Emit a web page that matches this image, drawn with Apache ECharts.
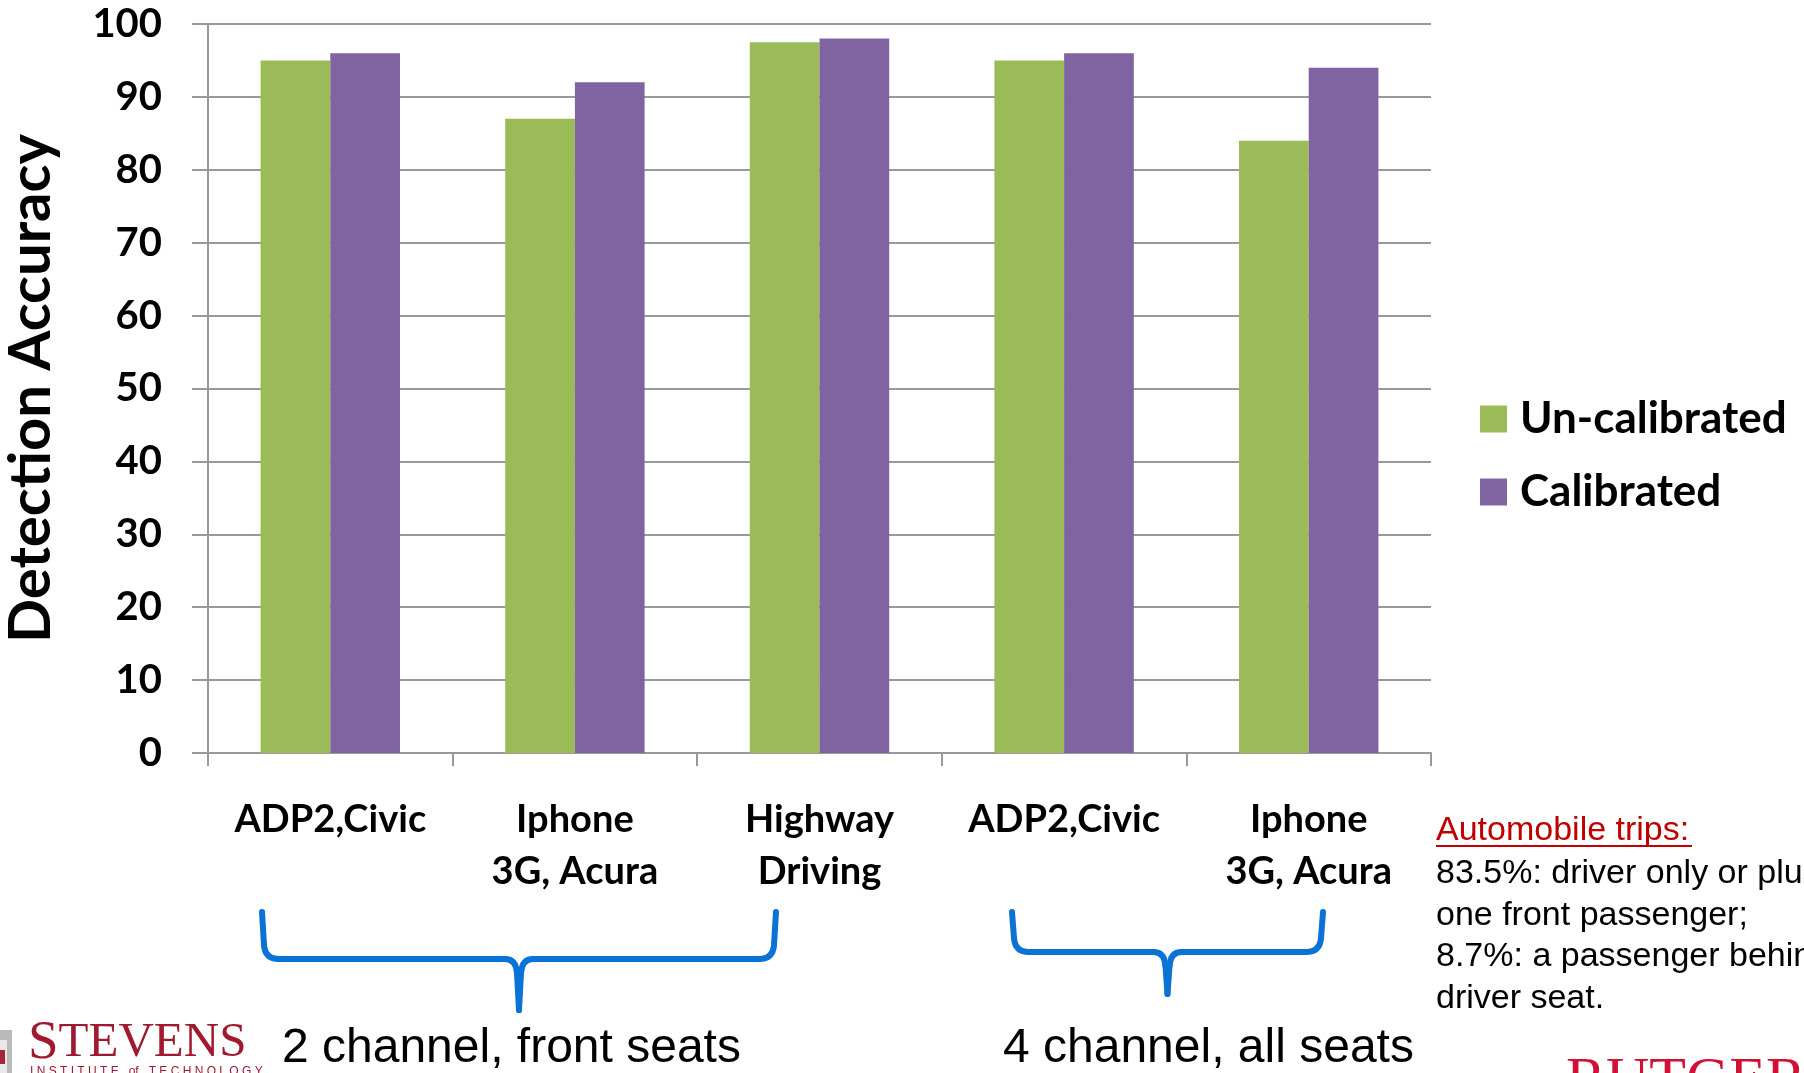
<!DOCTYPE html>
<html>
<head>
<meta charset="utf-8">
<title>Detection Accuracy</title>
<script src="https://cdn.jsdelivr.net/npm/echarts@6/dist/echarts.min.js"></script>
<style>
  html, body { margin: 0; padding: 0; background: #fff; }
  #chart { width: 1804px; height: 1073px; }
</style>
</head>
<body>
<div id="chart"></div>
<script>
// Test scenarios (two-line labels use '\n')
const categories = ['ADP2,Civic', 'Iphone\n3G, Acura', 'Highway\nDriving', 'ADP2,Civic', 'Iphone\n3G, Acura'];
// Detection accuracy (%) per scenario
const uncalibrated = [95, 87, 97.5, 95, 84];
const calibrated = [96, 92, 98, 96, 94];
const seriesNames = ['Un-calibrated', 'Calibrated'];
const yTicks = { min: 0, max: 100, step: 10 };

// Notes beside the chart
const noteTitle = 'Automobile trips:';
const noteLines = ['83.5%: driver only or plus', 'one front passenger;', '8.7%: a passenger behind', 'driver seat.'];
const groupLabels = ['2 channel, front seats', '4 channel, all seats'];

const GREEN = '#9BBB59';
const PURPLE = '#8064A2';
const GRID = '#999999';
const BLUE = '#0A73D5';
const BOLD = 'Lato, "Open Sans", sans-serif';
const ARIAL = '"Liberation Sans", Arial, sans-serif';
const SERIF = '"Liberation Serif", "DejaVu Serif", serif';

// Curly brace under a group of categories, built from straight and curved strokes
function brace(x1, x2, yTop, yH, yTip) {
  const xm = (x1 + x2) / 2;
  const r = 14;
  const st = { stroke: BLUE, lineWidth: 6, lineCap: 'round', fill: null };
  const line = (ax, ay, bx, by) => ({ type: 'line', shape: { x1: ax, y1: ay, x2: bx, y2: by }, style: st });
  const curve = (ax, ay, cx, cy, bx, by) => ({
    type: 'bezierCurve', shape: { x1: ax, y1: ay, cpx1: cx, cpy1: cy, x2: bx, y2: by }, style: st
  });
  return {
    type: 'group', silent: true,
    children: [
      line(x1, yTop, x1 + 2, yH - r),
      curve(x1 + 2, yH - r, x1 + 3, yH, x1 + r + 3, yH),
      line(x1 + r + 3, yH, xm - r, yH),
      curve(xm - r, yH, xm - 3, yH, xm - 2, yH + r),
      line(xm - 2, yH + r, xm, yTip),
      line(xm + 2, yH + r, xm, yTip),
      curve(xm + 2, yH + r, xm + 3, yH, xm + r, yH),
      line(xm + r, yH, x2 - r - 3, yH),
      curve(x2 - r - 3, yH, x2 - 3, yH, x2 - 2, yH - r),
      line(x2 - 2, yH - r, x2, yTop)
    ]
  };
}

const chart = echarts.init(document.getElementById('chart'), null, { renderer: 'canvas' });

const option = {
  animation: false,
  backgroundColor: '#ffffff',
  grid: { left: 208, right: 373, top: 24, bottom: 320, containLabel: false, outerBoundsMode: 'none' },
  legend: {
    data: seriesNames,
    orient: 'vertical',
    left: 1475,
    top: 392,
    icon: 'rect',
    itemWidth: 27,
    itemHeight: 27,
    itemGap: 29,
    selectedMode: false,
    textStyle: {
      fontFamily: BOLD, fontWeight: 'bold', fontSize: 44, color: '#000',
      padding: [0, 0, 0, 8]
    }
  },
  xAxis: {
    type: 'category',
    data: categories,
    axisLine: { show: true, lineStyle: { color: GRID, width: 2 } },
    axisTick: { show: true, length: 13, lineStyle: { color: GRID, width: 2 } },
    axisLabel: {
      interval: 0,
      margin: 41,
      fontFamily: BOLD, fontWeight: 'bold', fontSize: 38, lineHeight: 52, color: '#000'
    },
    splitLine: { show: false }
  },
  yAxis: {
    type: 'value',
    min: yTicks.min,
    max: yTicks.max,
    interval: yTicks.step,
    name: 'Detection Accuracy',
    nameLocation: 'middle',
    nameRotate: 90,
    nameGap: 148,
    nameTextStyle: { fontFamily: BOLD, fontWeight: 'bold', fontSize: 58, color: '#000' },
    axisLine: { show: true, lineStyle: { color: GRID, width: 2 } },
    axisTick: { show: true, length: 16, lineStyle: { color: GRID, width: 2 } },
    axisLabel: { margin: 46, fontFamily: BOLD, fontWeight: 'bold', fontSize: 40, color: '#000' },
    splitLine: { show: true, lineStyle: { color: GRID, width: 2 } }
  },
  series: [
    {
      name: seriesNames[0], type: 'bar', data: uncalibrated,
      itemStyle: { color: GREEN }, barGap: '0%', barCategoryGap: '43%'
    },
    {
      name: seriesNames[1], type: 'bar', data: calibrated,
      itemStyle: { color: PURPLE }, barGap: '0%', barCategoryGap: '43%'
    }
  ],
  graphic: [
    brace(262, 776, 912, 959, 1010),
    brace(1012, 1323, 912, 952, 994),
    {
      type: 'text', left: 282, top: 1025, silent: true,
      style: { text: groupLabels[0], font: '48px ' + ARIAL, fill: '#000' }
    },
    {
      type: 'text', left: 1003, top: 1025, silent: true,
      style: { text: groupLabels[1], font: '48px ' + ARIAL, fill: '#000' }
    },
    {
      type: 'text', left: 1436, top: 814, silent: true,
      style: { text: noteTitle, font: '34px ' + ARIAL, fill: '#C00000' }
    },
    {
      type: 'rect', silent: true,
      shape: { x: 1436, y: 845, width: 256, height: 2 },
      style: { fill: '#C00000' }
    },
    {
      type: 'text', left: 1436, top: 853, silent: true,
      style: { text: noteLines.join('\n'), font: '34px ' + ARIAL, lineHeight: 41.5, fill: '#000' }
    },
    // Stevens Institute of Technology mark
    {
      type: 'group', silent: true, children: [
        { type: 'rect', shape: { x: 0, y: 1030, width: 12, height: 43 }, style: { fill: '#b9b9b9' } },
        { type: 'rect', shape: { x: 0, y: 1040, width: 7, height: 33 }, style: { fill: '#e9e9e9' } },
        { type: 'rect', shape: { x: 0, y: 1050, width: 5, height: 14 }, style: { fill: '#a8243a' } },
        {
          type: 'text', x: 28, y: 1016,
          style: {
            text: '{a|S}{b|TEVENS}',
            rich: {
              a: { font: '55px ' + SERIF, fill: '#A0192F' },
              b: { font: '49px ' + SERIF, fill: '#A0192F' }
            }
          }
        },
        {
          type: 'text', x: 30, y: 1066,
          style: { text: 'I N S T I T U T E   of   T E C H N O L O G Y', font: '12px ' + ARIAL, fill: '#A0192F' }
        }
      ]
    },
    // Rutgers wordmark
    {
      type: 'text', left: 1566, top: 1052, silent: true,
      style: { text: 'RUTGERS', font: '60px ' + SERIF, fill: '#D21034' }
    }
  ]
};

chart.setOption(option);
</script>
</body>
</html>
